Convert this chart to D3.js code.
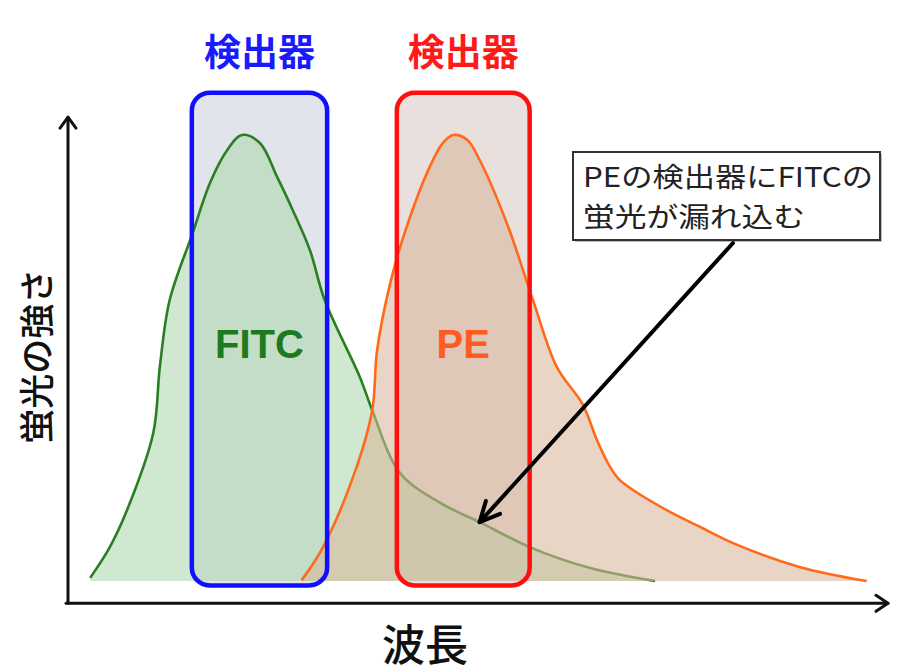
<!DOCTYPE html>
<html>
<head>
<meta charset="utf-8">
<script src="https://cdn.jsdelivr.net/npm/d3@7"></script>
<style>
  html, body { margin: 0; padding: 0; background: #fff; }
  svg { display: block; }
</style>
</head>
<body>
<svg id="chart" width="901" height="672"></svg>
<script>
// ---- data (wavelength in arbitrary units, intensity as % of peak) ----
const fitcWavelength = [2.7, 5.1, 7.2, 10.4, 11.2, 12.4, 15.2, 17.3, 19.4, 21.2, 23.4, 25.5, 27.4, 29.5, 31.3, 35.6, 37.1, 40.5, 45.4, 50.2, 56.3, 63.7, 71.6];
const fitcIntensity  = [0.7, 7.6, 15.9, 33.2, 48.0, 63.0, 78.0, 89.2, 96.6, 100, 98.2, 90.6, 83.2, 74.2, 63.0, 45.7, 38.3, 24.2, 17.5, 13.2, 7.6, 2.9, 0];

const peWavelength = [28.5, 31.1, 35.2, 37.1, 37.7, 39.3, 41.3, 44.1, 45.7, 47.0, 48.7, 50.2, 53.5, 56.7, 59.6, 62.8, 64.5, 66.1, 67.3, 68.9, 73.0, 77.1, 81.1, 89.3, 97.4];
const peIntensity  = [0.2, 7.6, 25.6, 38.3, 51.8, 66.8, 79.4, 92.8, 98.2, 100, 98.9, 94.4, 80.3, 63.0, 48.0, 39.5, 31.6, 25.6, 22.6, 20.4, 15.9, 12.1, 8.5, 3.1, 0];

const detectorNames = ["検出器", "検出器"];
const detectorLow   = [15.1, 40.1];
const detectorHigh  = [31.6, 56.3];
const detectorTop   = 109.5;
const detectorBottom = -1;

const dyeNames = ["FITC", "PE"];
const leakPoint = [50.2, 13.2];
const noteLines = ["PEの検出器にFITCの", "蛍光が漏れ込む"];
const xTitle = "波長";
const yTitle = "蛍光の強さ";

// ---- scales ----
const svg = d3.select("#chart");
const x = d3.scaleLinear().domain([0, 100]).range([68, 888]);
const y = d3.scaleLinear().domain([0, 100]).range([581, 135]);

const fitc = fitcWavelength.map((w, i) => [w, fitcIntensity[i]]);
const pe = peWavelength.map((w, i) => [w, peIntensity[i]]);

const curve = d3.curveCatmullRom.alpha(0.5);
const area = d3.area().x(d => x(d[0])).y0(y(0)).y1(d => y(d[1])).curve(curve);
const line = d3.line().x(d => x(d[0])).y(d => y(d[1])).curve(curve);

const boxStroke = ["#1010ff", "#ff1010"];
const boxFill = ["#e1e4ea", "#e9e0dd"];
const labelColor = ["#1a1aff", "#ff1a1a"];
const dyeColor = ["#1e7a1e", "#ff5a1f"];

// detector box fills (bottom layer)
svg.selectAll("rect.detfill").data(detectorLow).join("rect")
  .attr("class", "detfill")
  .attr("x", (d, i) => x(d))
  .attr("y", y(detectorTop))
  .attr("width", (d, i) => x(detectorHigh[i]) - x(d))
  .attr("height", y(detectorBottom) - y(detectorTop))
  .attr("rx", 18)
  .attr("fill", (d, i) => boxFill[i]);

// FITC
svg.append("path").datum(fitc).attr("d", area)
  .attr("fill", "rgb(175,217,175)").attr("fill-opacity", 0.6);
svg.append("path").datum(fitc).attr("d", line)
  .attr("fill", "none").attr("stroke", "#2a7f22").attr("stroke-width", 2.6);

// PE
svg.append("path").datum(pe).attr("d", area)
  .attr("fill", "rgb(215,183,155)").attr("fill-opacity", 0.58);
svg.append("path").datum(pe).attr("d", line)
  .attr("fill", "none").attr("stroke", "#ff6a1a").attr("stroke-width", 2.6);

// detector box strokes
svg.selectAll("rect.detstroke").data(detectorLow).join("rect")
  .attr("class", "detstroke")
  .attr("x", (d, i) => x(d))
  .attr("y", y(detectorTop))
  .attr("width", (d, i) => x(detectorHigh[i]) - x(d))
  .attr("height", y(detectorBottom) - y(detectorTop))
  .attr("rx", 18)
  .attr("fill", "none")
  .attr("stroke", (d, i) => boxStroke[i])
  .attr("stroke-width", 4.5);

// detector labels
svg.selectAll("text.detlabel").data(detectorNames).join("text")
  .attr("class", "detlabel")
  .attr("x", (d, i) => (x(detectorLow[i]) + x(detectorHigh[i])) / 2)
  .attr("y", y(detectorTop) - 27)
  .attr("text-anchor", "middle")
  .attr("font-family", "'Noto Sans CJK JP', sans-serif")
  .attr("font-weight", 700)
  .attr("font-size", 37)
  .attr("fill", (d, i) => labelColor[i])
  .text(d => d);

// dye labels
svg.selectAll("text.dye").data(dyeNames).join("text")
  .attr("class", "dye")
  .attr("x", (d, i) => (x(detectorLow[i]) + x(detectorHigh[i])) / 2)
  .attr("y", 358)
  .attr("text-anchor", "middle")
  .attr("font-family", "'Liberation Sans', Arial, sans-serif")
  .attr("font-weight", 700)
  .attr("font-size", 40)
  .attr("fill", (d, i) => dyeColor[i])
  .text(d => d);

// axes (arrows)
const axisY = y(-5);
const axisG = svg.append("g").attr("stroke", "#111").attr("stroke-width", 3).attr("fill", "none")
  .attr("stroke-linecap", "round").attr("stroke-linejoin", "round");
axisG.append("line").attr("x1", x(0)).attr("y1", axisY).attr("x2", x(0)).attr("y2", y(104));
axisG.append("polyline").attr("points", [[x(0) - 8, y(104) + 11], [x(0), y(104)], [x(0) + 8, y(104) + 11]].join(" "));
axisG.append("line").attr("x1", x(0) - 2).attr("y1", axisY).attr("x2", x(100)).attr("y2", axisY);
axisG.append("polyline").attr("points", [[x(100) - 12, axisY - 8], [x(100), axisY], [x(100) - 12, axisY + 8]].join(" "));

// axis titles
svg.append("text")
  .attr("transform", `translate(50, ${(axisY + y(104)) / 2 - 4}) rotate(-90)`)
  .attr("text-anchor", "middle")
  .attr("font-family", "'Noto Sans CJK JP', sans-serif")
  .attr("font-weight", 500)
  .attr("font-size", 35)
  .attr("fill", "#111")
  .text(yTitle);
svg.append("text")
  .attr("x", 425).attr("y", 661)
  .attr("text-anchor", "middle")
  .attr("font-family", "'Noto Sans CJK JP', sans-serif")
  .attr("font-weight", 500)
  .attr("font-size", 43)
  .attr("fill", "#111")
  .text(xTitle);

// annotation box
const noteX = 573, noteY = 152, noteW = 307, noteH = 88;
const noteWidths = [290, 222];
svg.append("rect").attr("x", noteX + 2).attr("y", noteY + 2).attr("width", noteW).attr("height", noteH)
  .attr("fill", "#bbb");
svg.append("rect").attr("x", noteX).attr("y", noteY).attr("width", noteW).attr("height", noteH)
  .attr("fill", "#fff").attr("stroke", "#333").attr("stroke-width", 2);
svg.selectAll("text.note").data(noteLines).join("text")
  .attr("class", "note")
  .attr("x", noteX + 10)
  .attr("y", (d, i) => noteY + 35 + i * 40)
  .attr("font-family", "'Noto Sans CJK JP', sans-serif")
  .attr("font-weight", 400)
  .attr("font-size", 27.5)
  .attr("textLength", (d, i) => noteWidths[i])
  .attr("lengthAdjust", "spacingAndGlyphs")
  .attr("fill", "#222")
  .text(d => d);

// annotation arrow
const ax0 = 733, ay0 = noteY + noteH + 3;
const ax1 = x(leakPoint[0]), ay1 = y(leakPoint[1]);
const ang = Math.atan2(ay1 - ay0, ax1 - ax0);
const hl = 22, ha = 0.45;
const ag = svg.append("g").attr("stroke", "#000").attr("stroke-width", 4).attr("fill", "none")
  .attr("stroke-linecap", "round").attr("stroke-linejoin", "round");
ag.append("line").attr("x1", ax0).attr("y1", ay0).attr("x2", ax1).attr("y2", ay1);
ag.append("polyline").attr("points", [
  [ax1 - hl * Math.cos(ang - ha), ay1 - hl * Math.sin(ang - ha)],
  [ax1, ay1],
  [ax1 - hl * Math.cos(ang + ha), ay1 - hl * Math.sin(ang + ha)]
].join(" "));
</script>
</body>
</html>
